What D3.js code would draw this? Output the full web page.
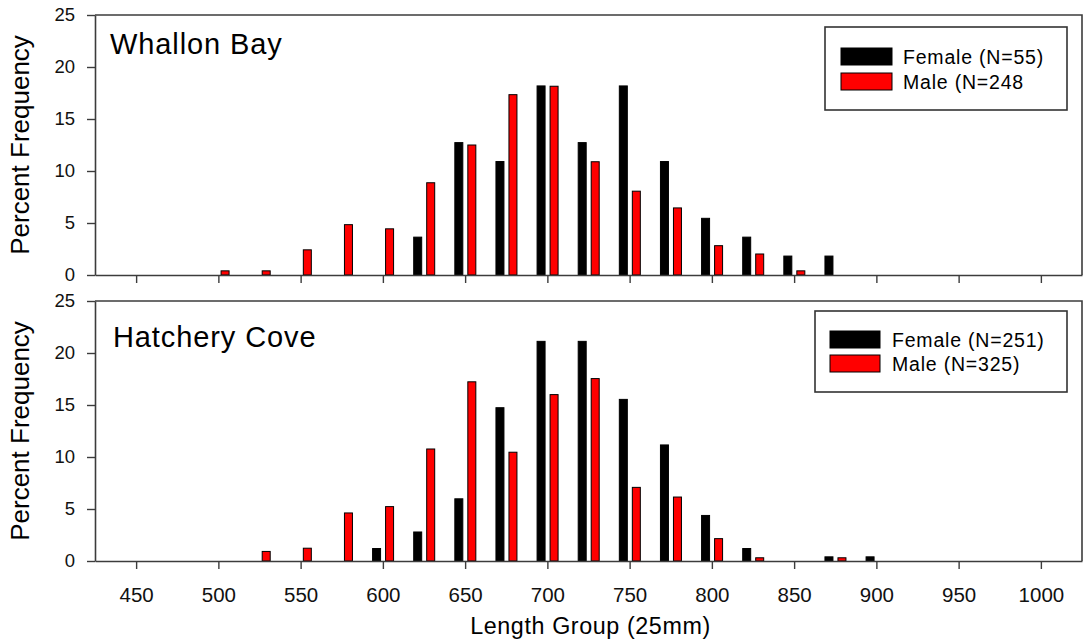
<!DOCTYPE html>
<html>
<head>
<meta charset="utf-8">
<script src="https://cdn.jsdelivr.net/npm/d3@7"></script>
<style>
  html, body { margin: 0; padding: 0; background: #fff; }
  svg { display: block; font-family: "Liberation Sans", Arial, sans-serif; }
</style>
</head>
<body>
<svg id="chart" width="1085" height="644"></svg>
<script>
// Length groups (mm, 25 mm bins)
const lengthGroups = [500, 525, 550, 575, 600, 625, 650, 675, 700, 725, 750, 775, 800, 825, 850, 875, 900];

// Percent frequency by length group
const whallonFemale  = [0, 0, 0, 0, 0, 3.64, 12.73, 10.91, 18.18, 12.73, 18.18, 10.91, 5.45, 3.64, 1.82, 1.82, 0];
const whallonMale    = [0.40, 0.40, 2.42, 4.84, 4.44, 8.87, 12.50, 17.34, 18.15, 10.89, 8.06, 6.45, 2.82, 2.02, 0.40, 0, 0];
const hatcheryFemale = [0, 0, 0, 0, 1.20, 2.79, 5.98, 14.74, 21.12, 21.12, 15.54, 11.16, 4.38, 1.20, 0, 0.40, 0.40];
const hatcheryMale   = [0, 0.92, 1.23, 4.62, 5.23, 10.77, 17.23, 10.46, 16.00, 17.54, 7.08, 6.15, 2.15, 0.31, 0, 0.31, 0];

const xTicks = [450, 500, 550, 600, 650, 700, 750, 800, 850, 900, 950, 1000];
const yTicks = [0, 5, 10, 15, 20, 25];
const seriesNames = ["Female", "Male"];
const seriesColors = ["#000000", "#ff0000"];

const panels = [
  { title: "Whallon Bay", female: whallonFemale, male: whallonMale,
    legend: ["Female (N=55)", "Male (N=248"], top: 15, bottom: 275, showXLabels: false,
    titleY: 54, titleX: 110, legendBox: [825, 27, 242, 83], swatchX: 841, swatchW: 51, rowY: [48, 73], textX: 903 },
  { title: "Hatchery Cove", female: hatcheryFemale, male: hatcheryMale,
    legend: ["Female (N=251)", "Male (N=325)"], top: 301, bottom: 561, showXLabels: true,
    titleY: 347, titleX: 113, legendBox: [815, 311, 252, 81], swatchX: 830, swatchW: 50, rowY: [331, 355], textX: 892 }
];

const svg = d3.select("#chart");
const left = 95, right = 1082;
const frameColor = "#3c3c3c";

const x = d3.scaleLinear().domain([425, 1025]).range([left, right]);
// offset of each series bar around the group position
const offset = d3.scaleBand().domain(seriesNames).range([-10.3, 10.7]).paddingInner(0.385);

panels.forEach(p => {
  const y = d3.scaleLinear().domain([0, 25]).range([p.bottom, p.top]);
  const g = svg.append("g");

  // bars
  const rows = lengthGroups.map((len, i) => ({ len, vals: [p.female[i], p.male[i]] }));
  seriesNames.forEach((s, si) => {
    g.append("g").selectAll("rect")
      .data(rows.filter(r => r.vals[si] > 0))
      .join("rect")
      .attr("x", r => x(r.len) + offset(s))
      .attr("width", offset.bandwidth())
      .attr("y", r => y(r.vals[si]))
      .attr("height", r => y(0) - y(r.vals[si]))
      .attr("fill", seriesColors[si])
      .attr("stroke", "#000")
      .attr("stroke-width", 1);
  });

  // frame: top and right edges
  g.append("path")
    .attr("d", `M${left},${p.top}H${right}V${p.bottom}`)
    .attr("fill", "none")
    .attr("stroke", frameColor)
    .attr("stroke-width", 1.6);

  // x axis
  const xAxis = d3.axisBottom(x).tickValues(xTicks).tickSize(8).tickSizeOuter(0).tickPadding(18)
    .tickFormat(p.showXLabels ? d3.format("d") : "");
  const gx = g.append("g").attr("transform", `translate(0,${p.bottom})`).call(xAxis);
  gx.select(".domain").attr("stroke", frameColor).attr("stroke-width", 1.6);
  gx.selectAll(".tick line").attr("stroke", frameColor).attr("stroke-width", 1.4);
  gx.selectAll(".tick text").attr("font-size", 20.5).attr("fill", "#111")
    .attr("font-family", "Liberation Sans, Arial, sans-serif");

  // y axis
  const yAxis = d3.axisLeft(y).tickValues(yTicks).tickSize(8).tickSizeOuter(0).tickPadding(12)
    .tickFormat(d3.format("d"));
  const gy = g.append("g").attr("transform", `translate(${left},0)`).call(yAxis);
  gy.select(".domain").attr("stroke", frameColor).attr("stroke-width", 1.6);
  gy.selectAll(".tick line").attr("stroke", frameColor).attr("stroke-width", 1.4);
  gy.selectAll(".tick text").attr("font-size", 18.5).attr("fill", "#111")
    .attr("font-family", "Liberation Sans, Arial, sans-serif");

  // panel title
  g.append("text")
    .attr("x", p.titleX).attr("y", p.titleY)
    .attr("font-size", 29).attr("letter-spacing", 0.9).attr("fill", "#000")
    .text(p.title);

  // y axis title
  g.append("text")
    .attr("transform", `translate(28.5,${(p.top + p.bottom) / 2}) rotate(-90)`)
    .attr("text-anchor", "middle")
    .attr("font-size", 26).attr("fill", "#000")
    .text("Percent Frequency");

  // legend
  const [bx, by, bw, bh] = p.legendBox;
  g.append("rect")
    .attr("x", bx).attr("y", by).attr("width", bw).attr("height", bh)
    .attr("fill", "#fff").attr("stroke", "#333").attr("stroke-width", 1.6);
  seriesNames.forEach((s, si) => {
    g.append("rect")
      .attr("x", p.swatchX).attr("y", p.rowY[si])
      .attr("width", p.swatchW).attr("height", 17)
      .attr("fill", seriesColors[si]).attr("stroke", "#000").attr("stroke-width", 1);
    g.append("text")
      .attr("x", p.textX).attr("y", p.rowY[si] + 16)
      .attr("font-size", 19.5).attr("letter-spacing", 0.8).attr("fill", "#000")
      .text(p.legend[si]);
  });
});

// x axis title
svg.append("text")
  .attr("x", 590.5).attr("y", 634)
  .attr("text-anchor", "middle")
  .attr("font-size", 23.3).attr("letter-spacing", 0.6).attr("fill", "#000")
  .text("Length Group (25mm)");
</script>
</body>
</html>
